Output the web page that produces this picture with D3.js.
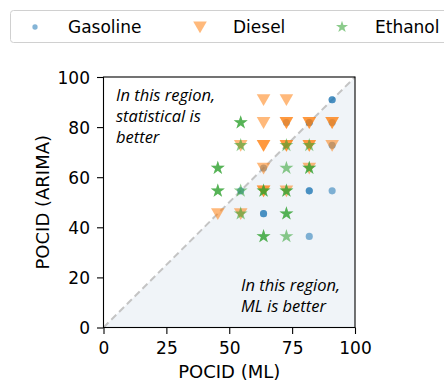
<!DOCTYPE html>
<html>
<head>
<meta charset="utf-8">
<script src="https://cdnjs.cloudflare.com/ajax/libs/d3/7.8.5/d3.min.js"></script>
<style>
  body { margin: 0; background: #fff; }
  svg { display: block; }
  text { font-family: "DejaVu Sans", sans-serif; fill: #000; }
  .note { font-family: "Open Sans", sans-serif; font-style: italic; font-size: 16.5px; }
</style>
</head>
<body>
<div id="plot"></div>
<script>
// values: [POCID (ML), POCID (ARIMA)]
var gasoline = [[90.91,90.91],[90.91,90.91],[72.73,81.82],[81.82,81.82],[81.82,81.82],[90.91,81.82],
                [90.91,72.73],[63.64,63.64],[54.55,54.55],[81.82,54.55],[81.82,54.55],[90.91,54.55],
                [63.64,45.45],[63.64,45.45],[81.82,36.36]];
var diesel = [[63.64,90.91],[72.73,90.91],[63.64,81.82],[72.73,81.82],[72.73,81.82],[81.82,81.82],
              [81.82,81.82],[90.91,81.82],[90.91,81.82],[54.55,72.73],[63.64,72.73],[63.64,72.73],
              [72.73,72.73],[72.73,72.73],[81.82,72.73],[81.82,72.73],[90.91,72.73],[63.64,63.64],
              [81.82,63.64],[63.64,54.55],[63.64,54.55],[72.73,54.55],[45.45,45.45],[54.55,45.45]];
var ethanol = [[54.55,81.82],[54.55,81.82],[54.55,72.73],[72.73,72.73],[81.82,72.73],[45.45,63.64],
               [45.45,63.64],[72.73,63.64],[81.82,63.64],[81.82,63.64],[45.45,54.55],[45.45,54.55],
               [54.55,54.55],[63.64,54.55],[63.64,54.55],[72.73,54.55],[72.73,54.55],[54.55,45.45],
               [72.73,45.45],[72.73,45.45],[63.64,36.36],[63.64,36.36],[72.73,36.36]];
var seriesNames = ["Gasoline", "Diesel", "Ethanol"];
var seriesColors = ["#1f77b4", "#ff7f0e", "#2ca02c"];
var xTicks = [0, 25, 50, 75, 100];
var yTicks = [0, 20, 40, 60, 80, 100];

var W = 444, H = 381;
var m = {left: 103.5, top: 77, right: 89, bottom: 53.5};

var svg = d3.select("#plot").append("svg")
    .attr("width", W).attr("height", H);

var x = d3.scaleLinear().domain([0, 100]).range([m.left, W - m.right]);
var y = d3.scaleLinear().domain([0, 100]).range([H - m.bottom, m.top]);

// shaded region below the diagonal
svg.append("path")
    .attr("d", d3.line()([[x(0), y(0)], [x(100), y(0)], [x(100), y(100)]]) + "Z")
    .style("fill", "#f0f4f8");

svg.append("line")
    .attr("x1", x(0)).attr("y1", y(0))
    .attr("x2", x(100)).attr("y2", y(100))
    .style("stroke", "#c4c4c4")
    .style("stroke-width", 2)
    .style("stroke-dasharray", "7,4");

var symbols = [
    d3.symbol().type(d3.symbolCircle).size(40),
    d3.symbol().type(d3.symbolTriangle).size(80),
    d3.symbol().type(d3.symbolStar).size(60)
];
var rotations = [0, 180, 0];
var offsets = [0, -1.5, 0];

[gasoline, diesel, ethanol].forEach(function(data, i) {
    svg.append("g").selectAll("path")
        .data(data)
        .enter().append("path")
        .attr("d", symbols[i])
        .attr("transform", function(d) {
            return "translate(" + x(d[0]) + "," + (y(d[1]) + offsets[i]) + ") rotate(" + rotations[i] + ")";
        })
        .style("fill", seriesColors[i])
        .style("fill-opacity", 0.55);
});

// annotations
var n1 = svg.append("text").attr("class", "note").attr("x", 116).attr("y", 101);
["In this region,", "statistical is", "better"].forEach(function(t, i) {
    n1.append("tspan").attr("x", 116).attr("dy", i ? 21 : 0).text(t);
});
var n2 = svg.append("text").attr("class", "note").attr("x", 241).attr("y", 291);
["In this region,", "ML is better"].forEach(function(t, i) {
    n2.append("tspan").attr("x", 241).attr("dy", i ? 21 : 0).text(t);
});

// frame
svg.append("rect")
    .attr("x", x(0)).attr("y", y(100))
    .attr("width", x(100) - x(0)).attr("height", y(0) - y(100))
    .style("fill", "none").style("stroke", "#000").style("stroke-width", 1.1);

var xAxis = svg.append("g")
    .attr("transform", "translate(0," + y(0) + ")")
    .call(d3.axisBottom(x).tickValues(xTicks).tickSize(6.5).tickPadding(8));
var yAxis = svg.append("g")
    .attr("transform", "translate(" + x(0) + ",0)")
    .call(d3.axisLeft(y).tickValues(yTicks).tickSize(6.5).tickPadding(7));
[xAxis, yAxis].forEach(function(a) {
    a.select(".domain").remove();
    a.selectAll("line").style("stroke", "#000").style("stroke-width", 1.1);
    a.selectAll("text").style("font-family", "DejaVu Sans").style("font-size", "17px").style("fill", "#000");
});
yAxis.selectAll("text").attr("dy", "0.36em");

svg.append("text")
    .attr("x", (x(0) + x(100)) / 2).attr("y", 377.5)
    .attr("text-anchor", "middle")
    .style("font-size", "18px")
    .text("POCID (ML)");
svg.append("text")
    .attr("transform", "translate(49," + (y(50)) + ") rotate(-90)")
    .attr("text-anchor", "middle")
    .style("font-size", "18px")
    .text("POCID (ARIMA)");

// legend
var lg = svg.append("g");
lg.append("rect")
    .attr("x", 10.5).attr("y", 10.5).attr("width", 460).attr("height", 32)
    .attr("rx", 3)
    .style("fill", "#fff").style("stroke", "#d0d0d0").style("stroke-width", 1);
var legendX = [35, 200, 342];
var legendSymbols = [
    d3.symbol().type(d3.symbolCircle).size(22),
    d3.symbol().type(d3.symbolTriangle).size(80),
    d3.symbol().type(d3.symbolStar).size(45)
];
seriesNames.forEach(function(name, i) {
    lg.append("path")
        .attr("d", legendSymbols[i])
        .attr("transform", "translate(" + legendX[i] + "," + (27 + offsets[i]) + ") rotate(" + rotations[i] + ")")
        .style("fill", seriesColors[i]).style("fill-opacity", 0.55);
    lg.append("text")
        .attr("x", legendX[i] + 33).attr("y", 32.5)
        .style("font-size", "17px")
        .text(name);
});
</script>
</body>
</html>
